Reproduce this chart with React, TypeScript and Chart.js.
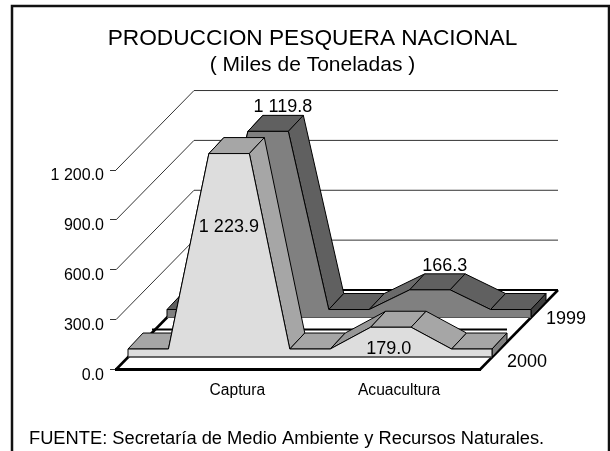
import React, { useEffect, useRef } from "react";
import { Chart, registerables } from "chart.js";

Chart.register(...registerables);

const categories = ["", "", "", "Captura", "", "", "", "Acuacultura", "", ""];
const series1999 = [48, 48, 1119.8, 1119.8, 48, 48, 166.3, 166.3, 48, 48];
const series2000 = [48, 48, 1223.9, 1223.9, 48, 48, 179.0, 179.0, 48, 48];
const seriesNames = ["1999", "2000"];
const yTicks = [0, 300, 600, 900, 1200];
const titleText = "PRODUCCION PESQUERA NACIONAL";
const subtitleText = "( Miles de Toneladas )";
const sourceText = "FUENTE: Secretaría de Medio Ambiente y Recursos Naturales.";

const FONT = "'Liberation Sans', Arial, sans-serif";
const FLOOR_DEPTH = { x: 78, y: 79.5 };
const BAND_DEPTH = { x: 15, y: 16 };
const styles = [
  {
    off: { x: 51, y: 52 },
    front: "#808080", top: "#606060", rise: "#6a6a6a", end: "#404040",
    nameAt: { x: 86, y: -50.5 },
    peaks: [
      { i: 2, text: "1 119.8", dx: 35, dy: -24 },
      { i: 6, text: "166.3", dx: 35, dy: -24 },
    ],
  },
  {
    off: { x: 12, y: 12.5 },
    front: "#dddddd", top: "#a6a6a6", rise: "#979797", end: "#808080",
    nameAt: { x: 47, y: -7.5 },
    peaks: [
      { i: 2, text: "1 223.9", dx: 20, dy: 73.5 },
      { i: 6, text: "179.0", dx: 18, dy: 21.5 },
    ],
  },
];

const poly = (ctx: CanvasRenderingContext2D, p: number[][], fill: string | null, stroke: string | null, lw = 1) => {
  ctx.beginPath();
  p.forEach(([x, y], i) => (i ? ctx.lineTo(x, y) : ctx.moveTo(x, y)));
  if (fill) {
    ctx.closePath();
    ctx.fillStyle = fill;
    ctx.fill();
  }
  if (stroke) {
    ctx.strokeStyle = stroke;
    ctx.lineWidth = lw;
    ctx.stroke();
  }
};

const area3d = {
  id: "area3d",
  beforeDatasetsDraw(chart: any) {
    const ctx: CanvasRenderingContext2D = chart.ctx;
    const { x: xs, y: ys } = chart.scales;
    const L = xs.left, R = xs.right, B = ys.bottom;
    ctx.save();

    // page frame
    ctx.strokeStyle = "#111";
    ctx.lineWidth = 2.5;
    ctx.strokeRect(12, 6, 597, 470);

    // walls: diagonal then horizontal from each tick
    yTicks.slice(1).forEach((v) => {
      const py = ys.getPixelForValue(v);
      poly(ctx, [[L, py], [L + FLOOR_DEPTH.x, py - FLOOR_DEPTH.y], [R + FLOOR_DEPTH.x, py - FLOOR_DEPTH.y]], null, "#333", 1);
    });

    // floor
    poly(ctx, [[L, B], [L + FLOOR_DEPTH.x, B - FLOOR_DEPTH.y], [R + FLOOR_DEPTH.x, B - FLOOR_DEPTH.y], [R, B]], "#fff", null);
    poly(ctx, [[L, B], [L + FLOOR_DEPTH.x, B - FLOOR_DEPTH.y]], null, "#000", 2.5);
    poly(ctx, [[R, B], [R + FLOOR_DEPTH.x, B - FLOOR_DEPTH.y]], null, "#000", 2.5);
    poly(ctx, [[L + FLOOR_DEPTH.x, B - FLOOR_DEPTH.y], [R + FLOOR_DEPTH.x, B - FLOOR_DEPTH.y]], null, "#000", 2);
    poly(ctx, [[L - 1, B], [R + 1, B]], null, "#000", 3);
    // strip on the floor behind the front band
    poly(ctx, [[L + 36, B - 40], [R + 27, B - 40]], null, "#000", 2);

    styles.forEach((st, di) => {
      const pts = chart.getDatasetMeta(di).data.map((p: any) => [p.x + st.off.x, p.y - st.off.y]);
      const base = ys.getPixelForValue(0) - st.off.y;
      const d = (p: number[]) => [p[0] + BAND_DEPTH.x, p[1] - BAND_DEPTH.y];
      // ribbon faces on top of the area
      for (let i = 0; i < pts.length - 1; i++) {
        const a = pts[i], b = pts[i + 1];
        poly(ctx, [a, b, d(b), d(a)], b[1] < a[1] ? st.rise : st.top, "#000", 1);
      }
      // end face
      const last = pts[pts.length - 1];
      poly(ctx, [last, d(last), d([last[0], base]), [last[0], base]], st.end, "#000", 1);
      // front face
      const first = pts[0];
      poly(ctx, [[first[0], base], ...pts, [last[0], base]], st.front, "#000", 1);
      poly(ctx, [[first[0], base], [last[0], base]], null, "#555", 1);
    });

    // value labels and depth-axis names
    ctx.fillStyle = "#000";
    ctx.textAlign = "center";
    ctx.textBaseline = "middle";
    ctx.font = `18px ${FONT}`;
    styles.forEach((st, di) => {
      const meta = chart.getDatasetMeta(di).data;
      st.peaks.forEach((k) => {
        const p = meta[k.i];
        ctx.fillText(k.text, p.x + st.off.x + k.dx, p.y - st.off.y + k.dy);
      });
      ctx.fillText(seriesNames[di], R + st.nameAt.x, B + st.nameAt.y);
    });

    // source note
    ctx.textAlign = "left";
    ctx.font = `18.3px ${FONT}`;
    ctx.fillText(sourceText, 29, 439);
    ctx.restore();
  },
};

export default function App() {
  const ref = useRef<HTMLCanvasElement>(null);
  useEffect(() => {
    document.body.style.margin = "0";
    const chart = new Chart(ref.current!, {
      type: "line",
      data: {
        labels: categories,
        datasets: [
          { label: seriesNames[0], data: series1999, showLine: false, pointRadius: 0 },
          { label: seriesNames[1], data: series2000, showLine: false, pointRadius: 0 },
        ],
      },
      plugins: [area3d],
      options: {
        responsive: false,
        animation: false,
        layout: { padding: { left: 15, right: 0, top: 0, bottom: 41.5 } },
        plugins: {
          legend: { display: false },
          tooltip: { enabled: false },
          title: {
            display: true,
            text: titleText,
            color: "#000",
            font: { family: FONT, size: 22.7, weight: "normal" },
            padding: { top: 25, bottom: 0 },
          },
          subtitle: {
            display: true,
            text: subtitleText,
            color: "#000",
            font: { family: FONT, size: 21, weight: "normal" },
            padding: { top: 0, bottom: 92.6 },
          },
        },
        scales: {
          x: {
            grid: { display: false },
            border: { display: false },
            afterFit: (s: any) => { s.height = 40; },
            ticks: {
              autoSkip: false,
              maxRotation: 0,
              padding: 4,
              color: "#000",
              font: { family: FONT, size: 15.6 },
            },
          },
          y: {
            min: 0,
            max: 1200,
            afterFit: (s: any) => { s.width = 101; },
            afterBuildTicks: (s: any) => { s.ticks = yTicks.map((value) => ({ value })); },
            grid: { drawOnChartArea: false, drawTicks: true, tickLength: 6, color: "#333" },
            border: { display: false },
            ticks: {
              padding: 6,
              labelOffset: 6,
              color: "#000",
              font: { family: FONT, size: 16 },
              callback: (v: any) => Number(v).toFixed(1).replace(/\B(?=(\d{3})+(?!\d))/g, " "),
            },
          },
          spacer: {
            type: "linear",
            position: "right",
            afterFit: (s: any) => { s.width = 130; },
            grid: { display: false },
            border: { display: false },
            ticks: { display: false },
          },
        },
      },
    } as any);
    return () => chart.destroy();
  }, []);
  return <canvas ref={ref} width={610} height={451} style={{ display: "block" }} />;
}
